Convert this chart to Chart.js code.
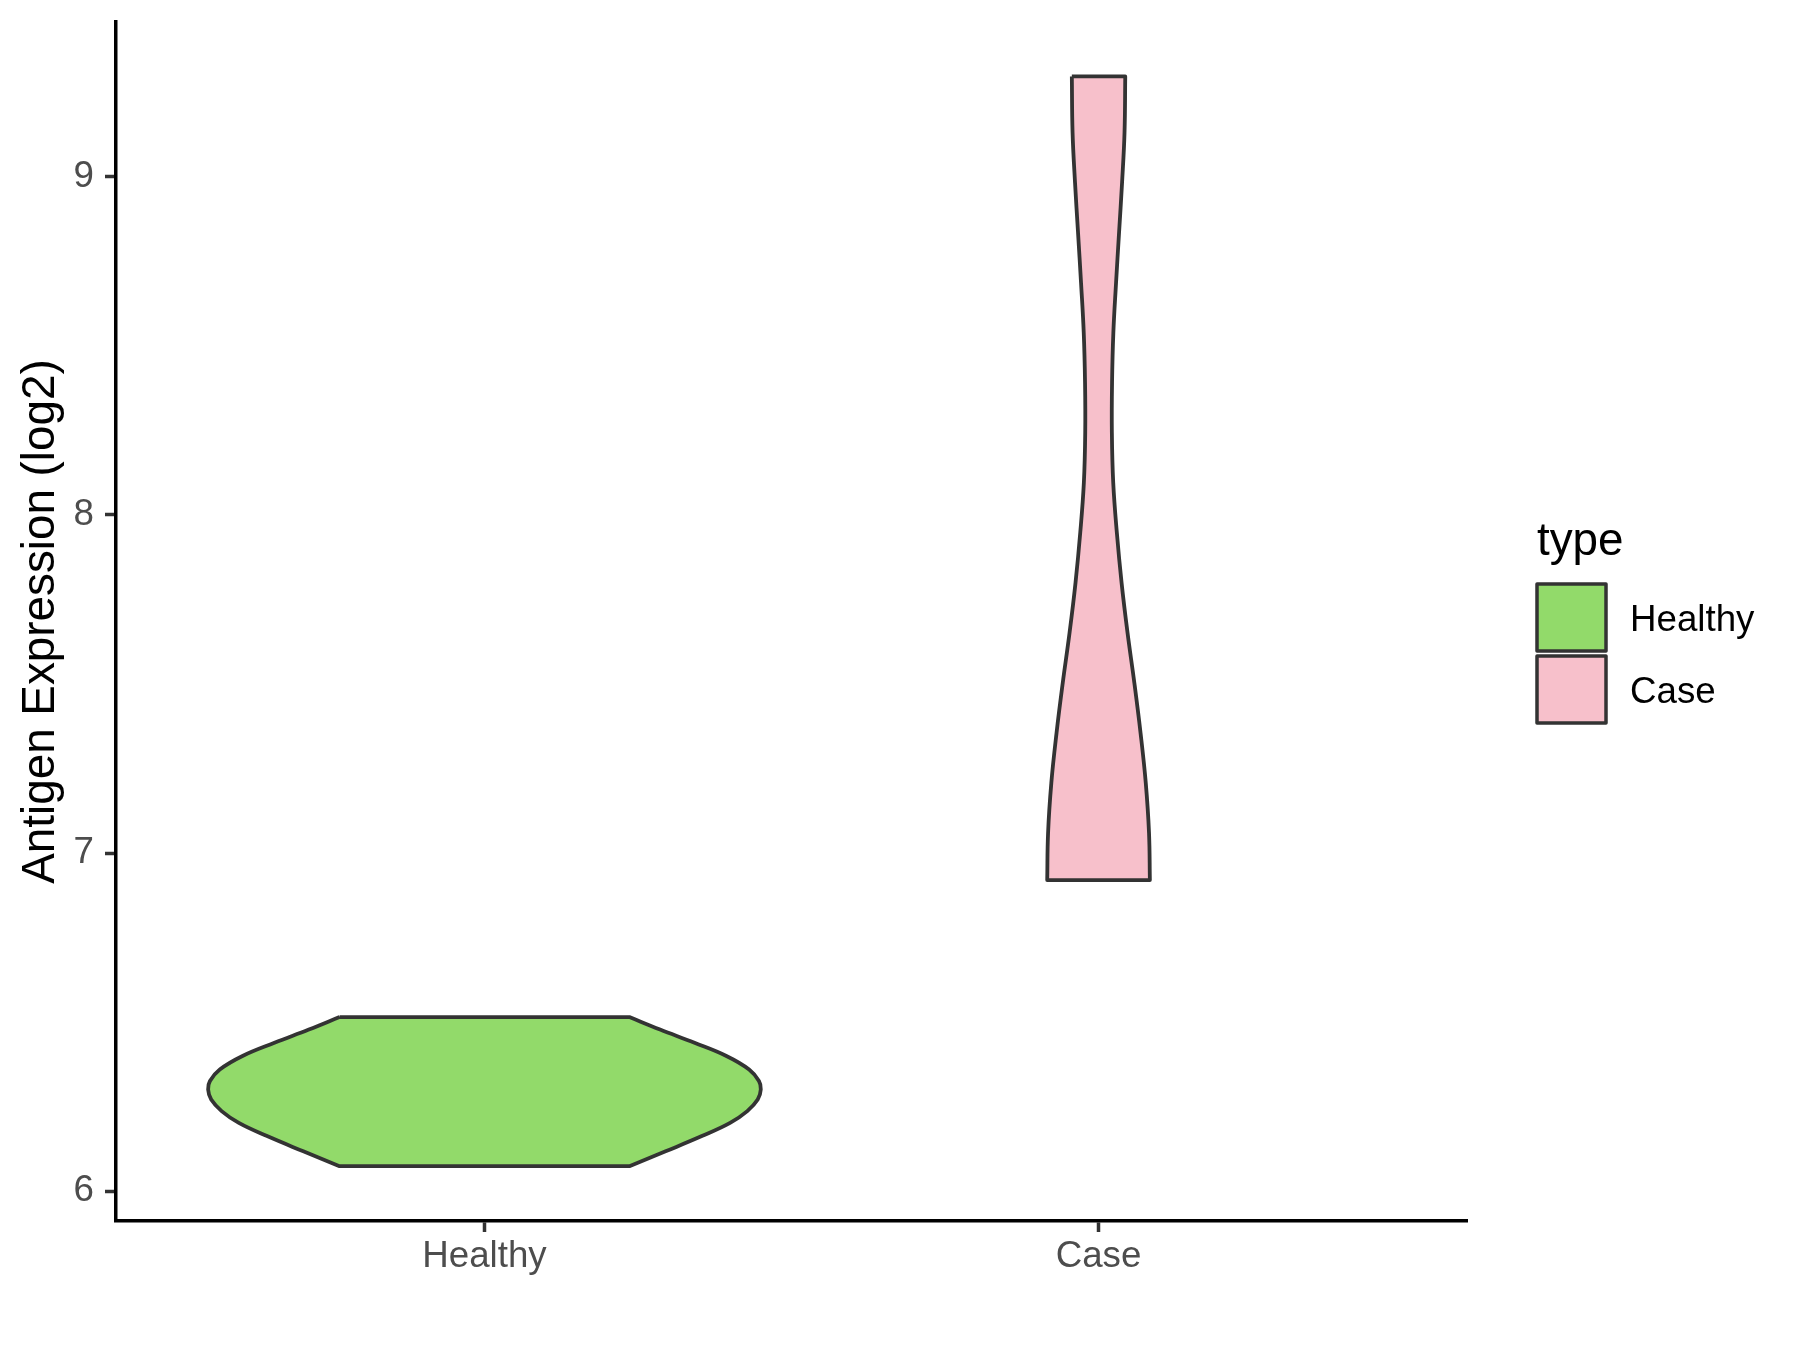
<!DOCTYPE html>
<html>
<head>
<meta charset="utf-8">
<script src="https://cdn.jsdelivr.net/npm/chart.js@4.4.1/dist/chart.umd.min.js"></script>
<style>
  html, body { margin: 0; padding: 0; background: #ffffff; }
  #wrap { width: 1800px; height: 1350px; }
</style>
</head>
<body>
<div id="wrap"><canvas id="chart" width="1800" height="1350"></canvas></div>
<script>
// categories on the x axis
const categories = ['Healthy', 'Case'];
const yTicks = [6, 7, 8, 9];

// violin outlines: value (log2) and half width (x units)
const healthyVal = [6.515, 6.478, 6.439, 6.400, 6.360, 6.326, 6.301, 6.271, 6.237, 6.202, 6.163, 6.118, 6.074];
const healthyHW  = [0.236, 0.286, 0.342, 0.394, 0.431, 0.447, 0.450, 0.445, 0.428, 0.400, 0.354, 0.295, 0.236];

const caseVal = [9.296, 9.130, 8.982, 8.834, 8.686, 8.538, 8.391, 8.243, 8.095, 7.947, 7.799, 7.651, 7.503, 7.355, 7.207, 7.059, 6.920];
const caseHW  = [0.0435, 0.0423, 0.0383, 0.0334, 0.0285, 0.0241, 0.0220, 0.0217, 0.0239, 0.0298, 0.0375, 0.0472, 0.0583, 0.0684, 0.0769, 0.0822, 0.0836];

const fills = ['#92DA6A', '#F7C0CB'];
const edge = '#333333';
const fontFam = "'Liberation Sans', Arial, sans-serif";

// closed outline: left side top->bottom, right side bottom->top
// end points are doubled so the flat ends keep sharp corners
function outline(pos, vals, hw) {
  const left = vals.map((v, i) => ({x: pos - hw[i], y: v}));
  const right = vals.map((v, i) => ({x: pos + hw[i], y: v})).reverse();
  const n = left.length;
  const pts = [left[0]].concat(left, [left[n - 1]], [right[0]], right, [right[n - 1]], [left[0]]);
  return pts;
}

function violin(label, pos, vals, hw, color) {
  return {
    label: label,
    data: outline(pos, vals, hw),
    showLine: true,
    fill: 'shape',
    backgroundColor: color,
    borderColor: edge,
    borderWidth: 3.8,
    borderJoinStyle: 'round',
    tension: 0.4,
    pointRadius: 0,
    pointHoverRadius: 0
  };
}

const legendPlugin = {
  id: 'typeLegend',
  afterDraw(chart) {
    const ctx = chart.ctx;
    ctx.save();
    ctx.fillStyle = '#000000';
    ctx.font = '45.8px ' + fontFam;
    ctx.textAlign = 'left';
    ctx.textBaseline = 'alphabetic';
    ctx.fillText('type', 1537, 555);
    const tops = [584, 656];
    categories.forEach((c, i) => {
      ctx.fillStyle = fills[i];
      ctx.fillRect(1537, tops[i], 69, 67);
      ctx.strokeStyle = edge;
      ctx.lineWidth = 3.5;
      ctx.lineJoin = 'round';
      ctx.strokeRect(1537, tops[i], 69, 67);
      ctx.fillStyle = '#000000';
      ctx.font = '36.7px ' + fontFam;
      ctx.textBaseline = 'middle';
      ctx.fillText(c, 1630, tops[i] + 37);
    });
    ctx.restore();
  }
};

new Chart(document.getElementById('chart'), {
  type: 'scatter',
  data: {
    datasets: [
      violin('Healthy', 1, healthyVal, healthyHW, fills[0]),
      violin('Case', 2, caseVal, caseHW, fills[1])
    ]
  },
  options: {
    responsive: false,
    animation: false,
    devicePixelRatio: 1,
    layout: { padding: { top: 22, right: 333, bottom: 0, left: 0 } },
    plugins: { legend: { display: false }, tooltip: { enabled: false } },
    scales: {
      x: {
        type: 'linear',
        min: 0.4,
        max: 2.6,
        afterBuildTicks: s => { s.ticks = categories.map((c, i) => ({value: i + 1})); },
        afterFit: s => { s.height = 129; },
        ticks: {
          callback: v => categories[v - 1],
          color: '#4D4D4D',
          font: { family: fontFam, size: 36.7 },
          padding: 3,
          maxRotation: 0
        },
        grid: { drawOnChartArea: false, drawTicks: true, tickLength: 11, tickColor: edge, tickWidth: 3.5 },
        border: { display: true, color: '#000000', width: 3.5 }
      },
      y: {
        type: 'linear',
        min: 5.912,
        max: 9.457,
        afterBuildTicks: s => { s.ticks = yTicks.map(v => ({value: v})); },
        afterFit: s => { s.width = 116; s.paddingTop = 0; s.paddingBottom = 0; },
        ticks: {
          color: '#4D4D4D',
          font: { family: fontFam, size: 36.7 },
          padding: 11
        },
        grid: { drawOnChartArea: false, drawTicks: true, tickLength: 11, tickColor: edge, tickWidth: 3.5 },
        border: { display: true, color: '#000000', width: 3.5 },
        title: {
          display: true,
          text: 'Antigen Expression (log2)',
          color: '#000000',
          font: { family: fontFam, size: 45.8 },
          padding: { top: 14, bottom: 0 }
        }
      }
    }
  },
  plugins: [legendPlugin]
});
</script>
</body>
</html>
